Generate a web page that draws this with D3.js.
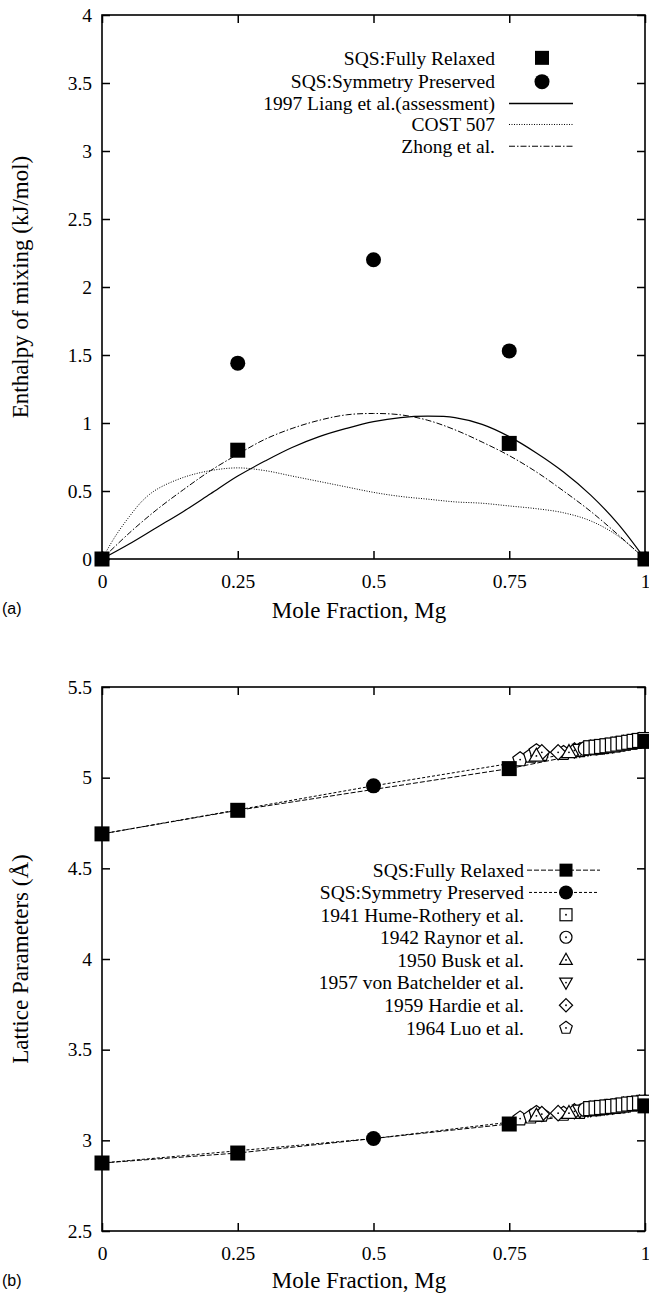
<!DOCTYPE html>
<html><head><meta charset="utf-8">
<script src="https://cdn.jsdelivr.net/npm/d3@7"></script>
<style>
html,body{margin:0;padding:0;background:#fff;}
text{font-family:"Liberation Serif","Times New Roman",serif;fill:#000;}
</style></head>
<body>
<svg id="c" width="649" height="1303"></svg>
<script>
// ---------- DATA ----------
const xTickVals = [0, 0.25, 0.5, 0.75, 1];
const xTickLabels = ["0", "0.25", "0.5", "0.75", "1"];
const yTickValsA = [0, 0.5, 1, 1.5, 2, 2.5, 3, 3.5, 4];
const yTickLabelsA = ["0", "0.5", "1", "1.5", "2", "2.5", "3", "3.5", "4"];
const yTickValsB = [2.5, 3, 3.5, 4, 4.5, 5, 5.5];
const yTickLabelsB = ["2.5", "3", "3.5", "4", "4.5", "5", "5.5"];

// Panel (a): enthalpy of mixing
const relaxedX = [0, 0.25, 0.75, 1];
const relaxedH = [0, 0.80, 0.85, 0];
const symX = [0.25, 0.5, 0.75];
const symH = [1.44, 2.20, 1.53];
const liangX = [0, 0.05, 0.1, 0.15, 0.2, 0.25, 0.3, 0.35, 0.4, 0.45, 0.5, 0.55, 0.6, 0.65, 0.7, 0.75, 0.8, 0.85, 0.9, 0.95, 1];
const liangH = [0, 0.11, 0.23, 0.35, 0.48, 0.61, 0.72, 0.82, 0.90, 0.96, 1.01, 1.04, 1.05, 1.04, 0.99, 0.90, 0.78, 0.64, 0.47, 0.26, 0];
const costX = [0, 0.025, 0.05, 0.075, 0.1, 0.15, 0.2, 0.25, 0.3, 0.35, 0.4, 0.45, 0.5, 0.55, 0.6, 0.65, 0.7, 0.75, 0.8, 0.85, 0.9, 0.95, 1];
const costH = [0, 0.17, 0.31, 0.43, 0.51, 0.60, 0.65, 0.67, 0.65, 0.61, 0.57, 0.53, 0.49, 0.46, 0.44, 0.42, 0.41, 0.39, 0.37, 0.34, 0.28, 0.17, 0];
const zhongX = [0, 0.05, 0.1, 0.15, 0.2, 0.25, 0.3, 0.35, 0.4, 0.45, 0.5, 0.55, 0.6, 0.65, 0.7, 0.75, 0.8, 0.85, 0.9, 0.95, 1];
const zhongH = [0, 0.19, 0.36, 0.51, 0.65, 0.77, 0.88, 0.96, 1.02, 1.06, 1.07, 1.06, 1.02, 0.95, 0.86, 0.76, 0.64, 0.50, 0.35, 0.18, 0];

// Panel (b): lattice parameters (c upper, a lower)
const relaxedLX = [0, 0.25, 0.75, 1];
const relaxedC = [4.69, 4.82, 5.05, 5.20];
const relaxedA = [2.875, 2.93, 3.09, 3.19];
const symLX = [0, 0.5, 1];
const symC = [4.69, 4.955, 5.20];
const symA = [2.875, 3.01, 3.19];
const symMarkX = [0.5];
const symMarkC = [4.955];
const symMarkA = [3.01];

const humeX = [0.90, 0.91, 0.92, 0.93, 0.94, 0.95, 0.96, 0.97, 0.98, 0.99, 1.0];
const humeC = [5.165, 5.168, 5.172, 5.176, 5.18, 5.185, 5.19, 5.195, 5.20, 5.205, 5.21];
const humeA = [3.175, 3.178, 3.181, 3.184, 3.187, 3.19, 3.195, 3.20, 3.203, 3.206, 3.21];
const raynorX = [0.89, 0.905, 0.92, 0.935, 0.95, 0.965, 0.98, 0.995];
const raynorC = [5.16, 5.167, 5.172, 5.178, 5.185, 5.192, 5.20, 5.207];
const raynorA = [3.17, 3.176, 3.181, 3.186, 3.19, 3.196, 3.203, 3.208];
const buskX = [0.80, 0.86, 0.90, 0.925, 0.945, 0.96, 0.975, 0.99];
const buskC = [5.12, 5.14, 5.16, 5.172, 5.182, 5.19, 5.197, 5.205];
const buskA = [3.135, 3.15, 3.17, 3.181, 3.188, 3.195, 3.201, 3.207];
const batchX = [0.88, 0.895, 0.91, 0.925, 0.94, 0.955, 0.97, 0.985];
const batchC = [5.155, 5.162, 5.168, 5.173, 5.18, 5.187, 5.195, 5.202];
const batchA = [3.165, 3.171, 3.177, 3.182, 3.187, 3.193, 3.199, 3.205];
const hardieX = [0.81, 0.84, 0.87, 0.90, 0.93, 0.96, 0.985];
const hardieC = [5.14, 5.14, 5.15, 5.165, 5.175, 5.19, 5.20];
const hardieA = [3.145, 3.15, 3.16, 3.172, 3.183, 3.195, 3.205];
const luoX = [0.77, 0.79, 0.80, 0.81, 0.85, 0.88, 0.91, 0.94, 0.97, 1.0];
const luoC = [5.10, 5.12, 5.145, 5.13, 5.135, 5.15, 5.165, 5.18, 5.195, 5.21];
const luoA = [3.12, 3.13, 3.15, 3.14, 3.145, 3.155, 3.17, 3.185, 3.198, 3.21];

const legendA = ["SQS:Fully Relaxed", "SQS:Symmetry Preserved", "1997 Liang et al.(assessment)", "COST 507", "Zhong et al."];
const legendB = ["SQS:Fully Relaxed", "SQS:Symmetry Preserved", "1941 Hume-Rothery et al.", "1942 Raynor et al.", "1950 Busk et al.", "1957 von Batchelder et al.", "1959 Hardie et al.", "1964 Luo et al."];

// ---------- DRAWING ----------
const svg = d3.select("#c");
const X0 = 102, X1 = 645;
const FS = 19.5;
const zip = (xs, ys) => xs.map((x, i) => [x, ys[i]]);

function frame(g, x, y, yVals, yLabels) {
  g.append("g").attr("transform", `translate(0,${y.range()[0]})`)
    .call(d3.axisBottom(x).tickValues(xTickVals).tickFormat((d, i) => xTickLabels[i]).tickSizeInner(-8).tickSizeOuter(0).tickPadding(15));
  g.append("g").attr("transform", `translate(0,${y.range()[1]})`)
    .call(d3.axisTop(x).tickValues(xTickVals).tickFormat("").tickSizeInner(-8).tickSizeOuter(0));
  g.append("g").attr("transform", `translate(${X0},0)`)
    .call(d3.axisLeft(y).tickValues(yVals).tickFormat((d, i) => yLabels[i]).tickSizeInner(-8).tickSizeOuter(0).tickPadding(10));
  g.append("g").attr("transform", `translate(${X1},0)`)
    .call(d3.axisRight(y).tickValues(yVals).tickFormat("").tickSizeInner(-8).tickSizeOuter(0));
  g.selectAll(".tick line").attr("stroke", "#000").attr("stroke-width", 1.5);
  g.selectAll(".domain").remove();
  g.selectAll(".tick text").style("font-family", '"Liberation Serif","Times New Roman",serif').style("font-size", FS + "px").attr("fill", "#000");
  g.append("rect").attr("x", X0).attr("y", y.range()[1]).attr("width", X1 - X0).attr("height", y.range()[0] - y.range()[1])
    .attr("fill", "none").attr("stroke", "#000").attr("stroke-width", 1.6);
}

function square(g, cx, cy, s, fill) {
  g.append("rect").attr("x", cx - s / 2).attr("y", cy - s / 2).attr("width", s).attr("height", s)
    .attr("fill", fill).attr("stroke", "#000").attr("stroke-width", fill === "#000" ? 0 : 1);
}
function openMarker(g, type, cx, cy, r) {
  const sw = 1.2;
  let pts;
  if (type === "square") {
    g.append("rect").attr("x", cx - r).attr("y", cy - r).attr("width", 2 * r).attr("height", 2 * r).attr("fill", "#fff").attr("stroke", "#000").attr("stroke-width", sw);
  } else if (type === "circle") {
    g.append("circle").attr("cx", cx).attr("cy", cy).attr("r", r).attr("fill", "#fff").attr("stroke", "#000").attr("stroke-width", sw);
  } else {
    if (type === "up") pts = [[0, -r * 1.1], [r * 1.05, r * 0.75], [-r * 1.05, r * 0.75]];
    if (type === "down") pts = [[0, r * 1.1], [r * 1.05, -r * 0.75], [-r * 1.05, -r * 0.75]];
    if (type === "diamond") pts = [[0, -r * 1.1], [r * 1.1, 0], [0, r * 1.1], [-r * 1.1, 0]];
    if (type === "pent") pts = d3.range(5).map(k => { const a = -Math.PI / 2 + k * 2 * Math.PI / 5; return [r * 1.1 * Math.cos(a), r * 1.1 * Math.sin(a)]; });
    g.append("polygon").attr("points", pts.map(p => [cx + p[0], cy + p[1]].join(",")).join(" "))
      .attr("fill", "#fff").attr("stroke", "#000").attr("stroke-width", sw);
  }
  g.append("circle").attr("cx", cx).attr("cy", cy).attr("r", 0.9).attr("fill", "#000");
}

// ---------- Panel (a) ----------
const xa = d3.scaleLinear().domain([0, 1]).range([X0, X1]);
const ya = d3.scaleLinear().domain([0, 4]).range([559, 15]);
const ga = svg.append("g");
const lineA = d3.line().x(d => xa(d[0])).y(d => ya(d[1])).curve(d3.curveCatmullRom.alpha(0.5));

ga.append("path").datum(zip(costX, costH)).attr("d", lineA).attr("fill", "none").attr("stroke", "#000").attr("stroke-width", 1).attr("stroke-dasharray", "1,1.5");
ga.append("path").datum(zip(zhongX, zhongH)).attr("d", lineA).attr("fill", "none").attr("stroke", "#000").attr("stroke-width", 1).attr("stroke-dasharray", "6,2,1.5,2");
ga.append("path").datum(zip(liangX, liangH)).attr("d", lineA).attr("fill", "none").attr("stroke", "#000").attr("stroke-width", 1.2);
frame(ga, xa, ya, yTickValsA, yTickLabelsA);
relaxedX.forEach((x, i) => square(ga, xa(x), ya(relaxedH[i]), 15, "#000"));
symX.forEach((x, i) => ga.append("circle").attr("cx", xa(x)).attr("cy", ya(symH[i])).attr("r", 7.5).attr("fill", "#000"));

// legend (a)
const legRowsA = [3.685, 3.51, 3.35, 3.195, 3.035];
const lgA = ga.append("g");
legendA.forEach((t, i) => {
  const yy = ya(legRowsA[i]);
  lgA.append("text").attr("x", 495).attr("y", yy).attr("dy", "0.35em").attr("text-anchor", "end").style("font-size", FS + "px").text(t);
});
square(lgA, 542, ya(legRowsA[0]), 14, "#000");
lgA.append("circle").attr("cx", 542).attr("cy", ya(legRowsA[1])).attr("r", 7.5).attr("fill", "#000");
lgA.append("line").attr("x1", 509).attr("x2", 573).attr("y1", ya(legRowsA[2])).attr("y2", ya(legRowsA[2])).attr("stroke", "#000").attr("stroke-width", 1.5);
lgA.append("line").attr("x1", 509).attr("x2", 573).attr("y1", ya(legRowsA[3])).attr("y2", ya(legRowsA[3])).attr("stroke", "#000").attr("stroke-width", 1).attr("stroke-dasharray", "1,1.5");
lgA.append("line").attr("x1", 509).attr("x2", 573).attr("y1", ya(legRowsA[4])).attr("y2", ya(legRowsA[4])).attr("stroke", "#000").attr("stroke-width", 1).attr("stroke-dasharray", "6,2,1.5,2");

// titles (a)
svg.append("text").attr("x", 359).attr("y", 618).attr("text-anchor", "middle").style("font-size", "23px").text("Mole Fraction, Mg");
svg.append("text").attr("transform", `translate(28,${ya(2)}) rotate(-90)`).attr("text-anchor", "middle").style("font-size", "23px").text("Enthalpy of mixing (kJ/mol)");
svg.append("text").attr("x", 2).attr("y", 614).style("font-family", '"Liberation Sans",Arial,sans-serif').style("font-size", "16px").text("(a)");

// ---------- Panel (b) ----------
const yb = d3.scaleLinear().domain([2.5, 5.5]).range([1231, 687]);
const gb = svg.append("g");
const lineB = d3.line().x(d => xa(d[0])).y(d => yb(d[1]));

const exps = [
  [humeX, humeC, humeA, "square"], [raynorX, raynorC, raynorA, "circle"], [buskX, buskC, buskA, "up"],
  [batchX, batchC, batchA, "down"], [hardieX, hardieC, hardieA, "diamond"], [luoX, luoC, luoA, "pent"]
];
frame(gb, xa, yb, yTickValsB, yTickLabelsB);
gb.append("path").datum(zip(symLX, symC)).attr("d", lineB).attr("fill", "none").attr("stroke", "#000").attr("stroke-width", 1).attr("stroke-dasharray", "3,2");
gb.append("path").datum(zip(symLX, symA)).attr("d", lineB).attr("fill", "none").attr("stroke", "#000").attr("stroke-width", 1).attr("stroke-dasharray", "3,2");
gb.append("path").datum(zip(relaxedLX, relaxedC)).attr("d", lineB).attr("fill", "none").attr("stroke", "#000").attr("stroke-width", 1).attr("stroke-dasharray", "5,2");
gb.append("path").datum(zip(relaxedLX, relaxedA)).attr("d", lineB).attr("fill", "none").attr("stroke", "#000").attr("stroke-width", 1).attr("stroke-dasharray", "5,2");
exps.slice().reverse().forEach(([xs, cs, as, type]) => {
  xs.forEach((x, i) => { openMarker(gb, type, xa(x), yb(cs[i]), 7); openMarker(gb, type, xa(x), yb(as[i]), 7); });
});
relaxedLX.forEach((x, i) => { square(gb, xa(x), yb(relaxedC[i]), 15, "#000"); square(gb, xa(x), yb(relaxedA[i]), 15, "#000"); });
symMarkX.forEach((x, i) => {
  gb.append("circle").attr("cx", xa(x)).attr("cy", yb(symMarkC[i])).attr("r", 7.5).attr("fill", "#000");
  gb.append("circle").attr("cx", xa(x)).attr("cy", yb(symMarkA[i])).attr("r", 7.5).attr("fill", "#000");
});

// legend (b)
const legRowsB = [4.49, 4.367, 4.244, 4.12, 3.995, 3.87, 3.745, 3.62];
const lgB = gb.append("g");
legendB.forEach((t, i) => {
  lgB.append("text").attr("x", 524).attr("y", yb(legRowsB[i])).attr("dy", "0.35em").attr("text-anchor", "end").style("font-size", FS + "px").text(t);
});
lgB.append("line").attr("x1", 527).attr("x2", 600).attr("y1", yb(legRowsB[0])).attr("y2", yb(legRowsB[0])).attr("stroke", "#000").attr("stroke-width", 1).attr("stroke-dasharray", "5,2");
square(lgB, 566, yb(legRowsB[0]), 13, "#000");
lgB.append("line").attr("x1", 529).attr("x2", 598).attr("y1", yb(legRowsB[1])).attr("y2", yb(legRowsB[1])).attr("stroke", "#000").attr("stroke-width", 1).attr("stroke-dasharray", "3,2");
lgB.append("circle").attr("cx", 566).attr("cy", yb(legRowsB[1])).attr("r", 7).attr("fill", "#000");
exps.forEach(([xs, cs, as, type], i) => openMarker(lgB, type, 566, yb(legRowsB[i + 2]), 6));

// titles (b)
svg.append("text").attr("x", 359).attr("y", 1288).attr("text-anchor", "middle").style("font-size", "23px").text("Mole Fraction, Mg");
svg.append("text").attr("transform", `translate(28,${yb(4)}) rotate(-90)`).attr("text-anchor", "middle").style("font-size", "23px").text("Lattice Parameters (Å)");
svg.append("text").attr("x", 2).attr("y", 1286).style("font-family", '"Liberation Sans",Arial,sans-serif').style("font-size", "16px").text("(b)");
</script>
</body></html>
